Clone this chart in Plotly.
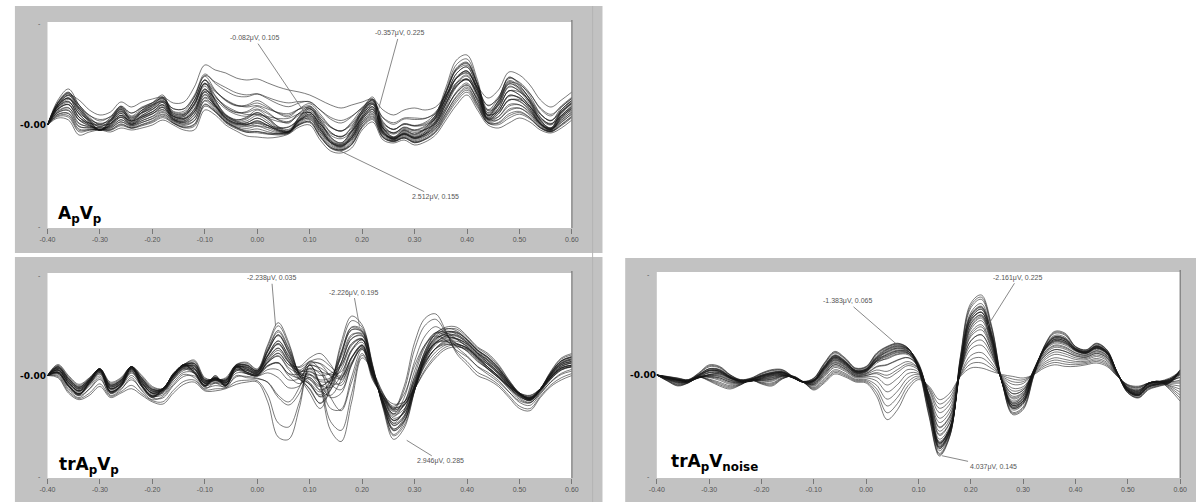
import plotly.graph_objects as go

W, H = 1203, 502

# ---------------------------------------------------------------- data
times = [-0.40, -0.38, -0.36, -0.34, -0.32, -0.30, -0.28, -0.26, -0.24, -0.22,
         -0.20, -0.18, -0.16, -0.14, -0.12, -0.10, -0.08, -0.06, -0.04, -0.02,
         0.00, 0.02, 0.04, 0.06, 0.08, 0.10, 0.12, 0.14, 0.16, 0.18,
         0.20, 0.22, 0.24, 0.26, 0.28, 0.30, 0.32, 0.34, 0.36, 0.38,
         0.40, 0.42, 0.44, 0.46, 0.48, 0.50, 0.52, 0.54, 0.56, 0.58,
         0.60]

tick_values = [-0.40, -0.30, -0.20, -0.10, 0.00, 0.10, 0.20, 0.30, 0.40, 0.50, 0.60]
tick_labels = ["-0.40", "-0.30", "-0.20", "-0.10", "0.00", "0.10", "0.20",
               "0.30", "0.40", "0.50", "0.60"]

# ApVp : three reference channel waveforms (uV, negative up)
apvp_high = [0, -2.0, -3.0, -2.5, -1.5, -1.0, -1.3, -2.3, -1.8, -2.3,
             -2.6, -2.8, -2.2, -2.3, -3.8, -6.0, -5.5, -5.2, -4.7, -4.5,
             -4.6, -4.2, -3.8, -3.5, -3.3, -3.0, -2.5, -2.0, -1.7, -2.0,
             -2.3, -2.6, -1.5, -1.0, -1.5, -1.7, -1.5, -1.8, -3.0, -4.2,
             -4.6, -3.8, -2.7, -3.5, -5.3, -5.0, -4.0, -2.5, -1.8, -2.5,
             -3.3]
apvp_low = [0, -0.7, -0.5, 1.0, 0.7, 0.5, 0.7, 0.3, 0.5, 0.3,
            0.0, -0.5, 0.0, 0.5, 0.5, -1.5, -1.0, 0.0, 0.6, 1.1,
            1.2, 1.3, 1.2, 0.9, 0.2, 0.0, 1.5, 2.6, 2.8, 2.3,
            0.5, -0.3, 1.5, 1.8, 1.5, 2.0, 1.7, 1.0, -0.5, -2.0,
            -3.0, -1.5, 0.0, 0.3, -0.2, -0.7, -0.3, 0.5, 0.8, 0.3,
            -0.5]
apvp_peaky = [0, -2.5, -3.6, -2.0, -0.5, 0.5, -0.5, -1.8, -0.5, -1.5,
              -2.2, -3.0, -1.0, -1.0, -2.5, -4.5, -2.5, -1.0, -0.5, -0.8,
              -1.5, -0.8, 0.2, 0.6, -0.8, -1.8, -0.5, 1.2, 1.8, 0.5,
              -1.5, -2.8, 0.2, 1.2, 0.5, 0.9, 0.3, -1.0, -3.8, -6.5,
              -7.0, -4.5, -1.0, -2.5, -4.8, -4.0, -2.5, -0.5, 0.3, -1.5,
              -2.5]
apvp_w_low = [0.0, 0.05, 0.1, 0.15, 0.2, 0.25, 0.3, 0.35, 0.4, 0.45, 0.5, 0.55, 0.6, 0.65,
              0.7, 0.75, 0.8, 0.85, 0.9, 1.0, 0.1, 0.2, 0.3, 0.4, 0.2, 0.1, 0.5, 0.0]
apvp_w_peaky = [0.0, 0.6, 0.3, 0.8, 0.1, 0.5, 0.7, 0.2, 0.6, 0.3, 0.5, 0.1, 0.4, 0.2,
                0.3, 0.1, 0.2, 0.1, 0.05, 0.0, 0.9, 0.8, 0.7, 0.6, 0.4, 0.7, 0.45, 1.0]
apvp_peak_t = [0.105, 0.225, 0.155]
apvp_peak_v = [-0.082, -0.357, 2.512]

# trApVp
trp_main = [0, -0.5, 0.0, 0.4, 0.1, -0.3, 0.3, 0.1, -0.4, 0.0,
            0.5, 0.6, -0.1, -0.5, -0.7, 0.1, 0.2, 0.1, -0.5, -0.6,
            -0.3, -1.4, -2.4, -1.5, 0.0, 0.8, 1.5, 0.5, -1.5, -2.7,
            -2.3, -0.5, 1.5, 2.9, 2.4, 0.7, -1.0, -1.9, -2.2, -2.2,
            -1.8, -1.3, -1.0, -0.5, 0.2, 0.8, 1.1, 0.6, -0.2, -0.8,
            -1.0]
trp_shift = [0, 0.1, 0.8, 1.1, 0.9, 0.5, 1.0, 0.8, 0.6, 0.9,
             1.2, 1.3, 0.8, 0.4, 0.3, 0.7, 0.7, 0.6, 0.4, 0.3,
             0.3, 1.2, 2.8, 2.9, 1.5, -0.5, 0.5, 2.5, 3.0, 1.2,
             -0.8, -0.2, 0.8, 1.5, 0.5, -1.5, -2.6, -2.8, -2.0, -1.0,
             -0.5, 0.0, 0.2, 0.5, 1.0, 1.5, 1.6, 1.0, 0.5, 0.2,
             0.0]
trp_small = [0, -0.1, 0.5, 0.9, 0.3, -0.3, 0.8, 0.5, -0.4, 0.5,
             1.0, 0.6, 0.0, -0.5, -0.1, 0.5, 0.0, 0.5, -0.4, -0.1,
             0.0, -0.6, -1.0, -0.5, -0.4, -0.8, -1.0, -0.5, 0.2, -0.6,
             -1.2, 0.2, 0.9, 1.3, 1.2, 0.6, -0.2, -0.8, -1.2, -1.3,
             -1.2, -0.8, -0.3, 0.1, 0.5, 0.8, 0.9, 0.6, 0.1, -0.3,
             -0.4]
trp_w_shift = [0, 0, 0.05, 0.1, 0, 0.15, 0.05, 0.2, 0, 0.1, 0.3, 0.05, 0.0, 0.1,
               0.2, 0.0, 0.4, 0.05, 0.15, 0.0, 0.6, 0.85, 1.0, 0.1, 0.0, 0.25, 0.05, 0.5]
trp_w_small = [0, 0.1, 0.2, 0.3, 0.4, 0.15, 0.5, 0.35, 0.6, 0.7, 0.2, 0.8, 0.9, 0.45,
               0.55, 0.25, 0.3, 0.65, 0.75, 1.0, 0.2, 0.1, 0.0, 0.05, 0.3, 0.6, 0.4, 0.5]
trp_peak_t = [0.035, 0.195, 0.285]
trp_peak_v = [-2.238, -2.226, 2.946]

# trApVnoise
trn_large = [0, 0.07, 0.15, 0.23, -0.10, -0.51, -0.43, -0.02, 0.23, 0.15,
             -0.10, -0.27, -0.27, 0.07, 0.32, 0.15, -0.60, -1.18, -0.85, -0.35,
             -0.43, -1.10, -1.43, -1.59, -1.35, -0.27, 2.06, 4.05, 3.06, -0.93,
             -3.59, -4.00, -2.43, 0.40, 1.98, 1.73, 0.07, -1.43, -2.18, -2.09,
             -1.43, -1.26, -1.59, -1.26, -0.10, 0.90, 1.15, 0.73, 0.56, 0.40,
             -0.27]
trn_early = [0, 0.30, 0.55, 0.40, 0.10, 0.30, 0.55, 0.70, 0.50, 0.25,
             0.45, 0.55, 0.20, 0.05, 0.35, 0.75, 0.40, -0.05, 0.10, 0.35,
             0.40, 1.06, 2.23, 1.73, 0.73, 0.23, 0.56, 1.23, 0.90, 0.07,
             -0.35, -0.35, -0.18, -0.02, 0.07, 0.15, -0.02, -0.35, -0.51, -0.43,
             -0.43, -0.51, -0.60, -0.43, 0.07, 0.48, 0.56, 0.40, 0.32, 0.73,
             1.31]
trn_typical = [0, 0.15, 0.27, 0.32, 0.15, -0.02, -0.07, 0.15, 0.32, 0.32,
               0.15, 0.03, -0.02, 0.15, 0.37, 0.32, -0.27, -0.76, -0.51, -0.10,
               -0.18, -0.76, -1.18, -1.35, -1.26, -0.60, 1.23, 3.39, 2.72, -0.27,
               -2.43, -2.92, -1.59, 0.40, 1.40, 1.06, -0.27, -1.26, -1.68, -1.59,
               -1.26, -1.10, -1.35, -1.10, -0.10, 0.73, 0.90, 0.40, 0.32, 0.15,
               -0.18]
trn_w_early = [0, 0, 0, 0.05, 0.1, 0, 0.05, 0.15, 0, 0.2, 0.1, 0, 0.3, 0.05,
               0.4, 0.0, 0.1, 0.5, 0.6, 0.7, 0.8, 1.0, 0.0, 0.05, 0.2, 0.1, 0.35, 0.9]
trn_w_typical = [0, 0.2, 0.4, 0.5, 0.6, 0.8, 0.9, 0.3, 1.0, 0.7, 0.45, 0.65, 0.6, 0.35,
                 0.5, 0.55, 0.85, 0.4, 0.3, 0.3, 0.2, 0.0, 0.1, 0.75, 0.8, 0.25, 0.65, 0.1]
trn_peak_t = [0.065, 0.225, 0.145]
trn_peak_v = [-1.383, -2.161, 4.037]


def blend(a, b, c, wb, wc):
    """Each channel is a weighted mix of three reference waveforms."""
    return [[ai + p * (bi - ai) + q * (ci - ai) for ai, bi, ci in zip(a, b, c)]
            for p, q in zip(wb, wc)]


# ---------------------------------------------------------------- layout helpers
def fx(px):
    return px / W


def fy(py):
    return 1 - py / H


GREY = "#c2c2c2"
LINE = "rgba(25,25,25,0.72)"
SMALL = dict(family="Liberation Sans, Arial, sans-serif", size=7, color="#555")

panels = [
    dict(name="A<sub>p</sub>V<sub>p</sub>",
         chans=blend(apvp_high, apvp_low, apvp_peaky, apvp_w_low, apvp_w_peaky),
         peaks=(apvp_peak_t, apvp_peak_v), offsets=[(-58, -86), (24, -88), (97, 47)],
         yr=10.3, frame=(7, 6, 602, 253), plot=(40, 22, 571, 228),
         label_xy=(49, 214)),
    dict(name="trA<sub>p</sub>V<sub>p</sub>",
         chans=blend(trp_main, trp_shift, trp_small, trp_w_shift, trp_w_small),
         peaks=(trp_peak_t, trp_peak_v), offsets=[(-4, -48), (-6, -34), (34, 21)],
         yr=4.66, frame=(7, 257, 602, 502), plot=(40, 273, 571, 478),
         label_xy=(50, 465)),
    dict(name="trA<sub>p</sub>V<sub>noise</sub>",
         chans=blend(trn_large, trn_early, trn_typical, trn_w_early, trn_w_typical),
         peaks=(trn_peak_t, trn_peak_v), offsets=[(-53, -46), (34, -54), (51, 11)],
         yr=5.15, frame=(625, 258, 1203, 502), plot=(657, 272, 1187, 478),
         label_xy=(669, 462)),
]

fig = go.Figure()
shapes = []
annotations = []
layout_axes = {}

for k, pnl in enumerate(panels, start=1):
    xa = "x" if k == 1 else f"x{k}"
    ya = "y" if k == 1 else f"y{k}"
    x0, y0, x1, y1 = pnl["plot"]
    fx0, fy0, fx1, fy1 = pnl["frame"]

    # grey frame and white plotting area
    shapes.append(dict(type="rect", xref="paper", yref="paper", layer="below",
                       x0=fx(fx0), x1=fx(fx1), y0=fy(fy1), y1=fy(fy0),
                       fillcolor=GREY, line=dict(width=0)))
    shapes.append(dict(type="rect", xref="paper", yref="paper", layer="below",
                       x0=fx(x0), x1=fx(x1), y0=fy(y1), y1=fy(y0),
                       fillcolor="white", line=dict(width=0)))
    # right border of the plotting area
    shapes.append(dict(type="line", xref="paper", yref="paper",
                       x0=fx(x1), x1=fx(x1), y0=fy(y1), y1=fy(y0) + 0.004,
                       line=dict(color="#777", width=1.2)))

    for ch in pnl["chans"]:
        fig.add_trace(go.Scatter(
            x=times, y=ch, mode="lines", xaxis=xa, yaxis=ya,
            line=dict(color=LINE, width=0.8, shape="spline", smoothing=1.0),
            showlegend=False, hoverinfo="skip"))

    key = "" if k == 1 else str(k)
    layout_axes["xaxis" + key] = dict(
        domain=[fx(x0), fx(x1)], anchor=ya, range=[-0.4, 0.6],
        tickmode="array", tickvals=tick_values, ticktext=tick_labels,
        ticks="outside", ticklen=5, tickwidth=1, tickcolor="#777",
        tickfont=SMALL, showgrid=False, zeroline=False, showline=False)
    layout_axes["yaxis" + key] = dict(
        domain=[fy(y1), fy(y0)], anchor=xa, range=[pnl["yr"], -pnl["yr"]],
        showticklabels=False, ticks="", showgrid=False, zeroline=False,
        showline=False)

    # peak labels with leader lines
    for (t, v), (ax, ay) in zip(zip(*pnl["peaks"]), pnl["offsets"]):
        annotations.append(dict(
            x=t, y=v, xref=xa, yref=ya, text=f"{v:.3f}μV, {t:.3f}",
            showarrow=True, arrowhead=0, arrowwidth=0.8, arrowcolor="#6a6a6a",
            ax=ax, ay=ay, standoff=0, font=SMALL))

    # condition name
    lx, ly = pnl["label_xy"]
    annotations.append(dict(
        x=fx(lx), y=fy(ly), xref="paper", yref="paper", xanchor="left",
        yanchor="middle", showarrow=False, text="<b>" + pnl["name"] + "</b>",
        font=dict(family="DejaVu Sans, sans-serif", size=17, color="black")))

    # baseline marker and y limits on the left
    zy = (y0 + y1) / 2
    annotations.append(dict(
        x=fx(x0 + 1), y=fy(zy), xref="paper", yref="paper", xanchor="right",
        yanchor="middle", showarrow=False, text="<b>-0.00</b>",
        font=dict(family="DejaVu Sans, sans-serif", size=9, color="black")))
    for ty in (y0 + 2, y1 - 2):
        annotations.append(dict(
            x=fx(x0 - 8), y=fy(ty), xref="paper", yref="paper",
            xanchor="center", yanchor="middle", showarrow=False, text="-",
            font=SMALL))

# faint inner edge in the left column
shapes.append(dict(type="line", xref="paper", yref="paper", layer="below",
                   x0=fx(592), x1=fx(592), y0=fy(502), y1=fy(6),
                   line=dict(color="#b4b4b4", width=1)))

fig.update_layout(
    width=W, height=H, margin=dict(l=0, r=0, t=0, b=0),
    paper_bgcolor="white", plot_bgcolor="rgba(0,0,0,0)",
    shapes=shapes, annotations=annotations, showlegend=False,
    **layout_axes)

fig.write_html("out.html")
